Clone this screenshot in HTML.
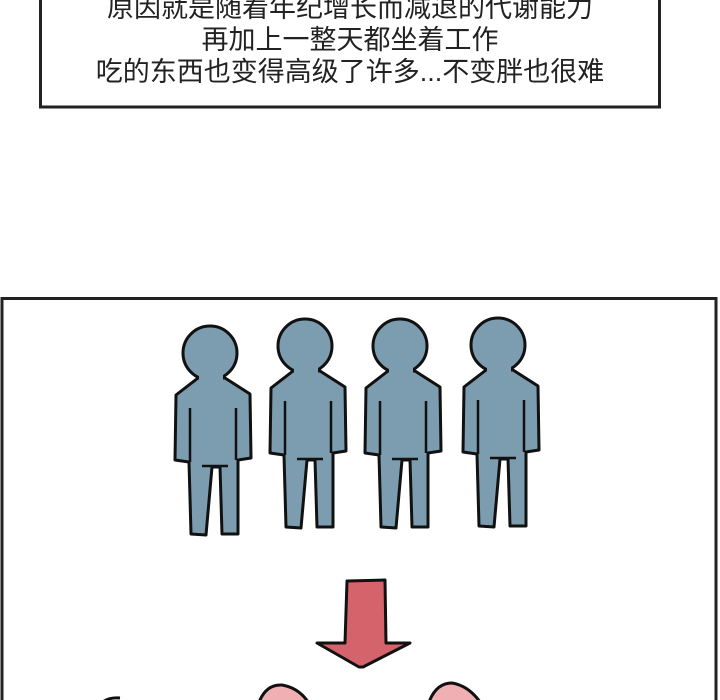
<!DOCTYPE html>
<html><head><meta charset="utf-8"><style>
html,body{margin:0;padding:0;background:#fff;width:720px;height:700px;overflow:hidden}
.t{position:absolute;left:40px;width:620px;text-align:center;font-family:"Liberation Sans","Noto Sans CJK SC",sans-serif;font-size:27px;color:#222;line-height:32px}
</style></head><body>
<svg width="720" height="700" style="position:absolute;left:0;top:0">
<defs>
<g id="p">
<path d="M198,378 L176,395 L175,460 L189,462 L191,534 L206,535 L212,467 L220,467 L222,534 L238,534 L238,460 L251,458 L250,394 L225,378 Z" fill="#7c9daf" stroke="#111" stroke-width="3" stroke-linejoin="round"/>
<circle cx="210" cy="353" r="27" fill="#7c9daf" stroke="#111" stroke-width="3"/>
<rect x="199" y="372" width="24" height="12" fill="#7c9daf"/>
<path d="M190,408 L190,462 M236,408 L236,460 M202,466 L228,466" stroke="#111" stroke-width="2.5" fill="none"/>
</g>
</defs>
<rect x="40.5" y="-10" width="619" height="117" fill="#fff" stroke="#222" stroke-width="3"/>
<rect x="2" y="298.5" width="714" height="420" fill="#fff" stroke="#222" stroke-width="3"/>
<use href="#p"/>
<use href="#p" transform="translate(95,-7)"/>
<use href="#p" transform="translate(190,-7)"/>
<use href="#p" transform="translate(288,-8)"/>
<path d="M347,581 L385,580 L386,643 L410,643 L363,667 L359,667 L317,643 L345,643 Z" fill="#d5636b" stroke="#111" stroke-width="3" stroke-linejoin="round"/>
<path d="M258,705 Q265,684 282,685 Q300,688 310,705 Z" fill="#f0b0b3" stroke="#111" stroke-width="3"/>
<path d="M428,705 Q435,683 452,683 Q470,686 482,705 Z" fill="#f0b0b3" stroke="#111" stroke-width="3"/>
<path d="M100,705 Q106,697 120,698" stroke="#111" stroke-width="3" fill="none"/>
</svg>
<div class="t" style="top:-8px">原因就是随着年纪增长而减退的代谢能力</div>
<div class="t" style="top:24px">再加上一整天都坐着工作</div>
<div class="t" style="top:56px">吃的东西也变得高级了许多...不变胖也很难</div>
</body></html>
